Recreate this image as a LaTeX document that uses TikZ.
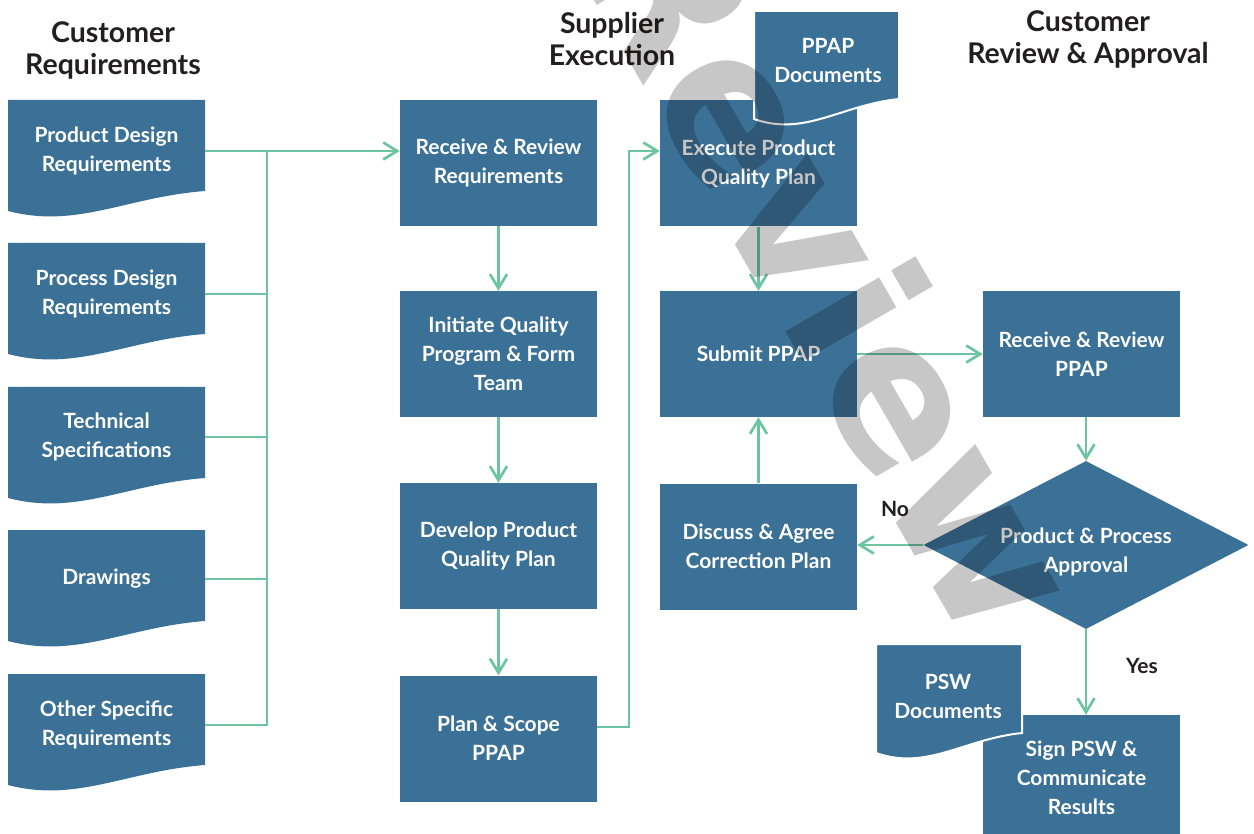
\documentclass[tikz,border=0pt]{standalone}
\usepackage{fontspec}
\setmainfont{Lato}
\newfontfamily\wmfont{DejaVu Sans}
\usetikzlibrary{arrows.meta,shapes.geometric}

\definecolor{boxblue}{HTML}{3B7196}
\definecolor{flow}{HTML}{6CC5A0}
\definecolor{ink}{HTML}{231F20}

\tikzset{
  boxtext/.style={text=white, font=\bfseries\fontsize{21}{29}\selectfont, align=center, inner sep=0pt},
  stepbox/.style={boxtext, fill=boxblue, minimum width=197pt, minimum height=126pt},
  doctext/.style={boxtext},
  heading/.style={text=ink, font=\bfseries\fontsize{28.5}{32}\selectfont, align=center, inner sep=0pt},
  tag/.style={text=ink, font=\bfseries\fontsize{21}{24}\selectfont, inner sep=0pt},
  flowline/.style={draw=flow, line width=2.7pt},
  flowarrow/.style={flowline, -{Straight Barb[length=14pt,width=17pt]}},
  watermark/.style={text=black, text opacity=0.22, font=\wmfont\bfseries\fontsize{198}{198}\selectfont, inner sep=0pt},
}

% document symbol: flat top, straight sides, wavy bottom
% #1 left, #2 top, #3 right, #4 height of the right side, #5 extra path options
\newcommand\docsymbol[5]{%
  \path[fill=boxblue,#5] (#1,#2) -- (#3,#2) -- (#3,#2+#4)
    .. controls ({#3-0.4*(#3-#1)},#2+#4+6) and ({#1+0.35*(#3-#1)},#2+#4+38) .. (#1,#2+#4+20) -- cycle;%
}

\begin{document}
\begin{tikzpicture}[x=1pt,y=-1pt]
\useasboundingbox (0,0) rectangle (1254,834);
\clip (0,0) rectangle (1254,834);

% column headings
\node[heading] (h1) at (113,50) {Customer\\Requirements};
\node[heading] (h2) at (612,39) {Supplier\\Execution};
\node[heading] (h3) at (1088,39) {Customer\\Review \& Approval};

% customer requirement documents
\docsymbol{8}{100}{205}{91}{}
\docsymbol{8}{243}{205}{91}{}
\docsymbol{8}{387}{205}{91}{}
\docsymbol{8}{530}{205}{91}{}
\docsymbol{8}{674}{205}{91}{}
\node[doctext, minimum width=197pt] (d1) at (106.5,151) {Product Design\\Requirements};
\node[doctext, minimum width=197pt] (d2) at (106.5,294) {Process Design\\Requirements};
\node[doctext, minimum width=197pt] (d3) at (106.5,437) {Technical\\Specifications};
\node[doctext, minimum width=197pt] (d4) at (106.5,579) {Drawings};
\node[doctext, minimum width=197pt] (d5) at (106.5,725) {Other Specific\\Requirements};

% supplier steps
\node[stepbox] (r1) at (498.5,163) {Receive \& Review\\Requirements};
\node[stepbox] (r2) at (498.5,354) {Initiate Quality\\Program \& Form\\Team};
\node[stepbox] (r3) at (498.5,546) {Develop Product\\Quality Plan};
\node[stepbox] (r4) at (498.5,738.5) {Plan \& Scope\\PPAP};

\node[stepbox] (e1) at (758.5,163.5) {Execute Product\\Quality Plan};
\node[stepbox] (s1) at (758.5,354) {Submit PPAP};
\node[stepbox] (c1) at (758.5,546.5) {Discuss \& Agree\\Correction Plan};

% PPAP documents over the execute step
\docsymbol{754}{11}{899}{88}{draw=white, line width=2pt}
\node[doctext] (pd) at (828,60) {PPAP\\Documents};

% customer review
\node[stepbox] (p1) at (1081.5,354) {Receive \& Review\\PPAP};
\node[diamond, fill=boxblue, minimum width=325pt, minimum height=168pt, inner sep=0pt] (q) at (1086,545) {};
\node[boxtext] (qt) at (1086,552) {Product \& Process\\Approval};
\node[stepbox] (g1) at (1081.5,778) {Sign PSW \&\\Communicate\\Results};

% PSW documents over the sign-off step
\docsymbol{876}{644}{1022}{89}{draw=white, line width=2pt}
\node[doctext] (sd) at (948,696) {PSW\\Documents};

% requirement bus
\coordinate (bus) at (267,0);
\coordinate (loop) at (629,0);
\draw[flowline] (d5.east) -| (bus |- d1.east);
\draw[flowline] (d2.east) -- (bus |- d2.east);
\draw[flowline] (d3.east) -- (bus |- d3.east);
\draw[flowline] (d4.east) -- (bus |- d4.east);
\draw[flowarrow] (d1.east) -- (r1.west |- d1.east);

% supplier flow
\draw[flowarrow] (r1.south) -- (r2.north);
\draw[flowarrow] (r2.south) -- (r3.north);
\draw[flowarrow] (r3.south) -- (r4.north);
\draw[flowarrow] ([yshift=11.5pt]r4.east) -| (loop |- d1.east) -- (e1.west |- d1.east);
\draw[flowarrow] (e1.south) -- (s1.north);
\draw[flowarrow] (c1.north) -- (s1.south);
\draw[flowarrow] (s1.east) -- (p1.west);

% review flow
\draw[flowarrow] (p1.south -| q.north) -- (q.north);
\draw[flowarrow] (q.west) -- (c1.east |- q.west);
\draw[flowarrow] (q.south) -- (q.south |- g1.north);
\node[tag] (no) at (895,509) {No};
\node[tag] (yes) at (1142,666) {Yes};

% watermark
\node[watermark, anchor=mid, rotate=-60] (wm) at (772,303) {Review};
\end{tikzpicture}
\end{document}
